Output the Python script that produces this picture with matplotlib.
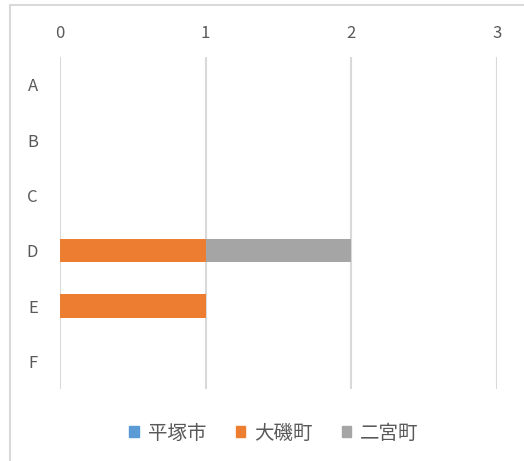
import matplotlib.pyplot as plt
from matplotlib.lines import Line2D
from matplotlib.patches import Patch
import numpy as np

plt.rcParams['font.family'] = ['Noto Sans CJK JP', 'DejaVu Sans']

categories = ["A", "B", "C", "D", "E", "F"]
series = ["平塚市", "大磯町", "二宮町"]
hiratsuka = [0, 0, 0, 0, 0, 0]
oiso = [0, 0, 0, 1, 1, 0]
ninomiya = [0, 0, 0, 1, 0, 0]
colors = ["#5B9BD5", "#ED7D31", "#A5A5A5"]

fig = plt.figure(figsize=(5.24, 4.61), dpi=100)
ax = fig.add_axes([60 / 524, 1 - 389 / 461, 437 / 524, 332 / 461])

y = np.arange(len(categories))
left = np.zeros(len(categories))
for vals, c in zip([hiratsuka, oiso, ninomiya], colors):
    ax.barh(y, vals, left=left, height=0.42, color=c, zorder=3)
    left += np.array(vals)

ax.set_xlim(0, 3)
ax.set_ylim(5.5, -0.5)
ax.set_xticks([0, 1, 2, 3])
ax.set_yticks(y)
ax.set_yticklabels(categories)
ax.xaxis.tick_top()
ax.tick_params(length=0, colors="#595959", labelsize=12)
ax.tick_params(axis="x", pad=11)
ax.tick_params(axis="y", pad=16)
ax.grid(axis="x", color="#D9D9D9", linewidth=1.5, zorder=0)
for s in ax.spines.values():
    s.set_visible(False)

handles = [Patch(color=c) for c in colors]
fig.legend(handles, series, loc="center", bbox_to_anchor=(274 / 524, 1 - 433 / 461),
           ncol=3, frameon=False, fontsize=14, handlelength=0.5, handleheight=0.5,
           handletextpad=0.45, columnspacing=1.5, labelcolor="#595959")

# outer chart frame (top and left edges visible)
fig.add_artist(Line2D([10 / 524, 10 / 524], [0, 1 - 5 / 461], transform=fig.transFigure,
                      color="#D9D9D9", linewidth=1.5))
fig.add_artist(Line2D([10 / 524, 1], [1 - 5 / 461, 1 - 5 / 461], transform=fig.transFigure,
                      color="#D9D9D9", linewidth=1.5))

fig.savefig("out.png", dpi=100)
